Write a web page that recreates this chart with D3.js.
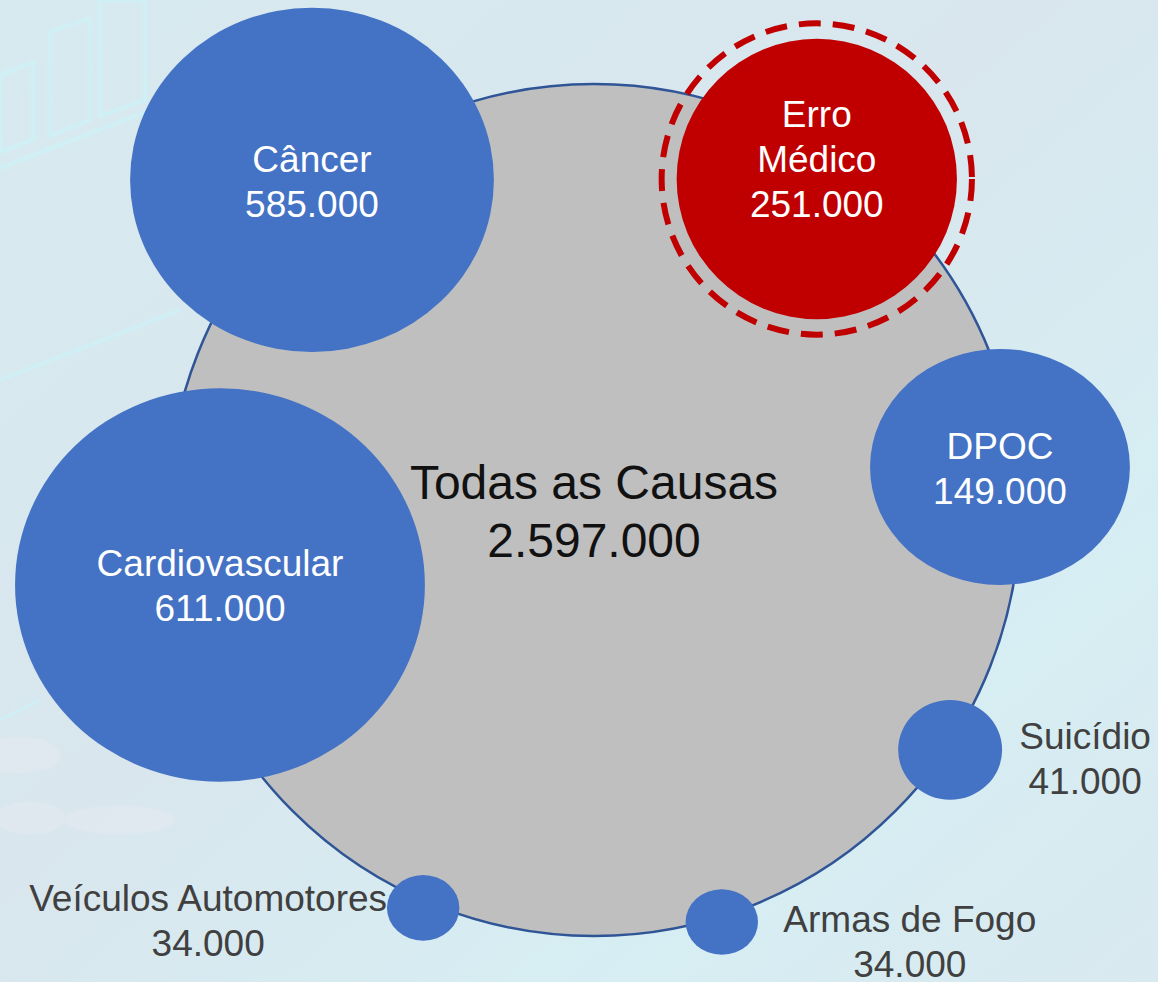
<!DOCTYPE html>
<html>
<head>
<meta charset="utf-8">
<script src="https://cdn.jsdelivr.net/npm/d3@7"></script>
<style>
  html, body { margin: 0; padding: 0; background: #d8e8ef; }
  svg { display: block; }
  text { font-family: "Liberation Sans", Arial, sans-serif; }
</style>
</head>
<body>
<svg id="chart" width="1158" height="982"></svg>
<script>
// data
const totalLabel = ["Todas as Causas"];
const totalValue = 2597000;
const categories = ["Câncer", "Erro Médico", "DPOC", "Cardiovascular", "Suicídio", "Veículos Automotores", "Armas de Fogo"];
const values = [585000, 251000, 149000, 611000, 41000, 34000, 34000];
const highlight = ["Erro Médico"];

// layout (units of the big circle: -1..1)
const posX = [-0.662, 0.523, 0.953, -0.878, 0.836, -0.401, 0.300];
const posY = [-0.775, -0.777, -0.101, 0.176, 0.563, 0.934, 0.967];
const radX = [0.427, 0.329, 0.305, 0.481, 0.122, 0.085, 0.085];
const radY = [0.404, 0.329, 0.277, 0.462, 0.117, 0.077, 0.077];
// label placement: inside or offset outside (px)
const labelInside = [true, true, true, true, false, false, false];
const labelDX = [0, 0, 0, 0, 135, -215, 188];
const labelDY = [2, -19, 2, 1, 9, 13, 20];
const labelLines = [["Câncer"], ["Erro", "Médico"], ["DPOC"], ["Cardiovascular"], ["Suicídio"], ["Veículos Automotores"], ["Armas de Fogo"]];

const W = 1158, H = 982;
const svg = d3.select("#chart");
const fmt = v => d3.format(",")(v).replace(/,/g, ".");

// background
const defs = svg.append("defs");
const bg = defs.append("linearGradient").attr("id", "bg")
  .attr("x1", "0").attr("y1", "0").attr("x2", "1").attr("y2", "1");
bg.append("stop").attr("offset", "0%").attr("stop-color", "#d7eaf0");
bg.append("stop").attr("offset", "45%").attr("stop-color", "#d9e6ee");
bg.append("stop").attr("offset", "75%").attr("stop-color", "#d6eef3");
bg.append("stop").attr("offset", "100%").attr("stop-color", "#d9e9f0");
svg.append("rect").attr("width", W).attr("height", H).attr("fill", "url(#bg)");

const blur = defs.append("filter").attr("id", "soft");
blur.append("feGaussianBlur").attr("stdDeviation", 1.2);
const deco = svg.append("g").attr("filter", "url(#soft)")
  .attr("fill", "none").attr("stroke", "#c8f6fb").attr("stroke-width", 3).attr("opacity", 0.7);
deco.append("path").attr("d", "M0,75 L33,62 L33,140 L0,152 Z");
deco.append("path").attr("d", "M50,32 L90,18 L90,120 L50,136 Z");
deco.append("path").attr("d", "M100,0 L145,0 L145,100 L100,116 Z");
deco.append("path").attr("d", "M0,168 L190,95");
deco.append("path").attr("d", "M0,380 L180,310");
deco.append("path").attr("d", "M40,700 L0,720");
const ghost = svg.append("g").attr("filter", "url(#soft)").attr("fill", "#f1eef3").attr("opacity", 0.3);
ghost.append("ellipse").attr("cx", 20).attr("cy", 755).attr("rx", 40).attr("ry", 18);
ghost.append("ellipse").attr("cx", 30).attr("cy", 818).attr("rx", 35).attr("ry", 16);
ghost.append("ellipse").attr("cx", 120).attr("cy", 820).attr("rx", 55).attr("ry", 14);

// scales
const x = d3.scaleLinear().domain([-1, 1]).range([168, 1020]);
const y = d3.scaleLinear().domain([-1, 1]).range([84, 936]);
const rx = d3.scaleLinear().domain([0, 1]).range([0, (x(1) - x(-1)) / 2]);
const ry = d3.scaleLinear().domain([0, 1]).range([0, (y(1) - y(-1)) / 2]);

const nodes = categories.map((c, i) => ({
  name: c, value: values[i], cx: x(posX[i]), cy: y(posY[i]),
  rx: rx(radX[i]), ry: ry(radY[i]), inside: labelInside[i],
  dx: labelDX[i], dy: labelDY[i], lines: labelLines[i],
  hot: highlight.includes(c)
}));

// big circle
svg.append("ellipse")
  .attr("cx", x(0)).attr("cy", y(0))
  .attr("rx", rx(1)).attr("ry", ry(1))
  .attr("fill", "#bfbfbf").attr("stroke", "#2f5597").attr("stroke-width", 2.5);

svg.append("g").selectAll("text")
  .data(totalLabel.concat([fmt(totalValue)]))
  .join("text")
  .attr("x", x(0))
  .attr("y", (d, i) => y(0) + (i - 0.5) * 58 + 1)
  .attr("text-anchor", "middle")
  .attr("dominant-baseline", "central")
  .attr("font-size", 48)
  .attr("fill", "#111")
  .text(d => d);

// category bubbles
const g = svg.append("g").selectAll("g")
  .data(nodes)
  .join("g");

g.append("ellipse")
  .attr("cx", d => d.cx).attr("cy", d => d.cy)
  .attr("rx", d => d.rx).attr("ry", d => d.ry)
  .attr("fill", d => d.hot ? "#c00000" : "#4472c4");

g.filter(d => d.hot).append("ellipse")
  .attr("cx", d => d.cx).attr("cy", d => d.cy)
  .attr("rx", d => d.rx + 15).attr("ry", d => d.ry + 15.5)
  .attr("fill", "none")
  .attr("stroke", "#c00000")
  .attr("stroke-width", 6)
  .attr("stroke-dasharray", "22 12");

g.each(function(d) {
  const lines = d.lines.concat([fmt(d.value)]);
  const n = lines.length;
  d3.select(this).append("g").selectAll("text")
    .data(lines)
    .join("text")
    .attr("x", d.cx + d.dx)
    .attr("y", (t, i) => d.cy + d.dy + (i - (n - 1) / 2) * 45)
    .attr("text-anchor", "middle")
    .attr("dominant-baseline", "central")
    .attr("font-size", 37)
    .attr("fill", d.inside ? "#ffffff" : "#404040")
    .text(t => t);
});
</script>
</body>
</html>
